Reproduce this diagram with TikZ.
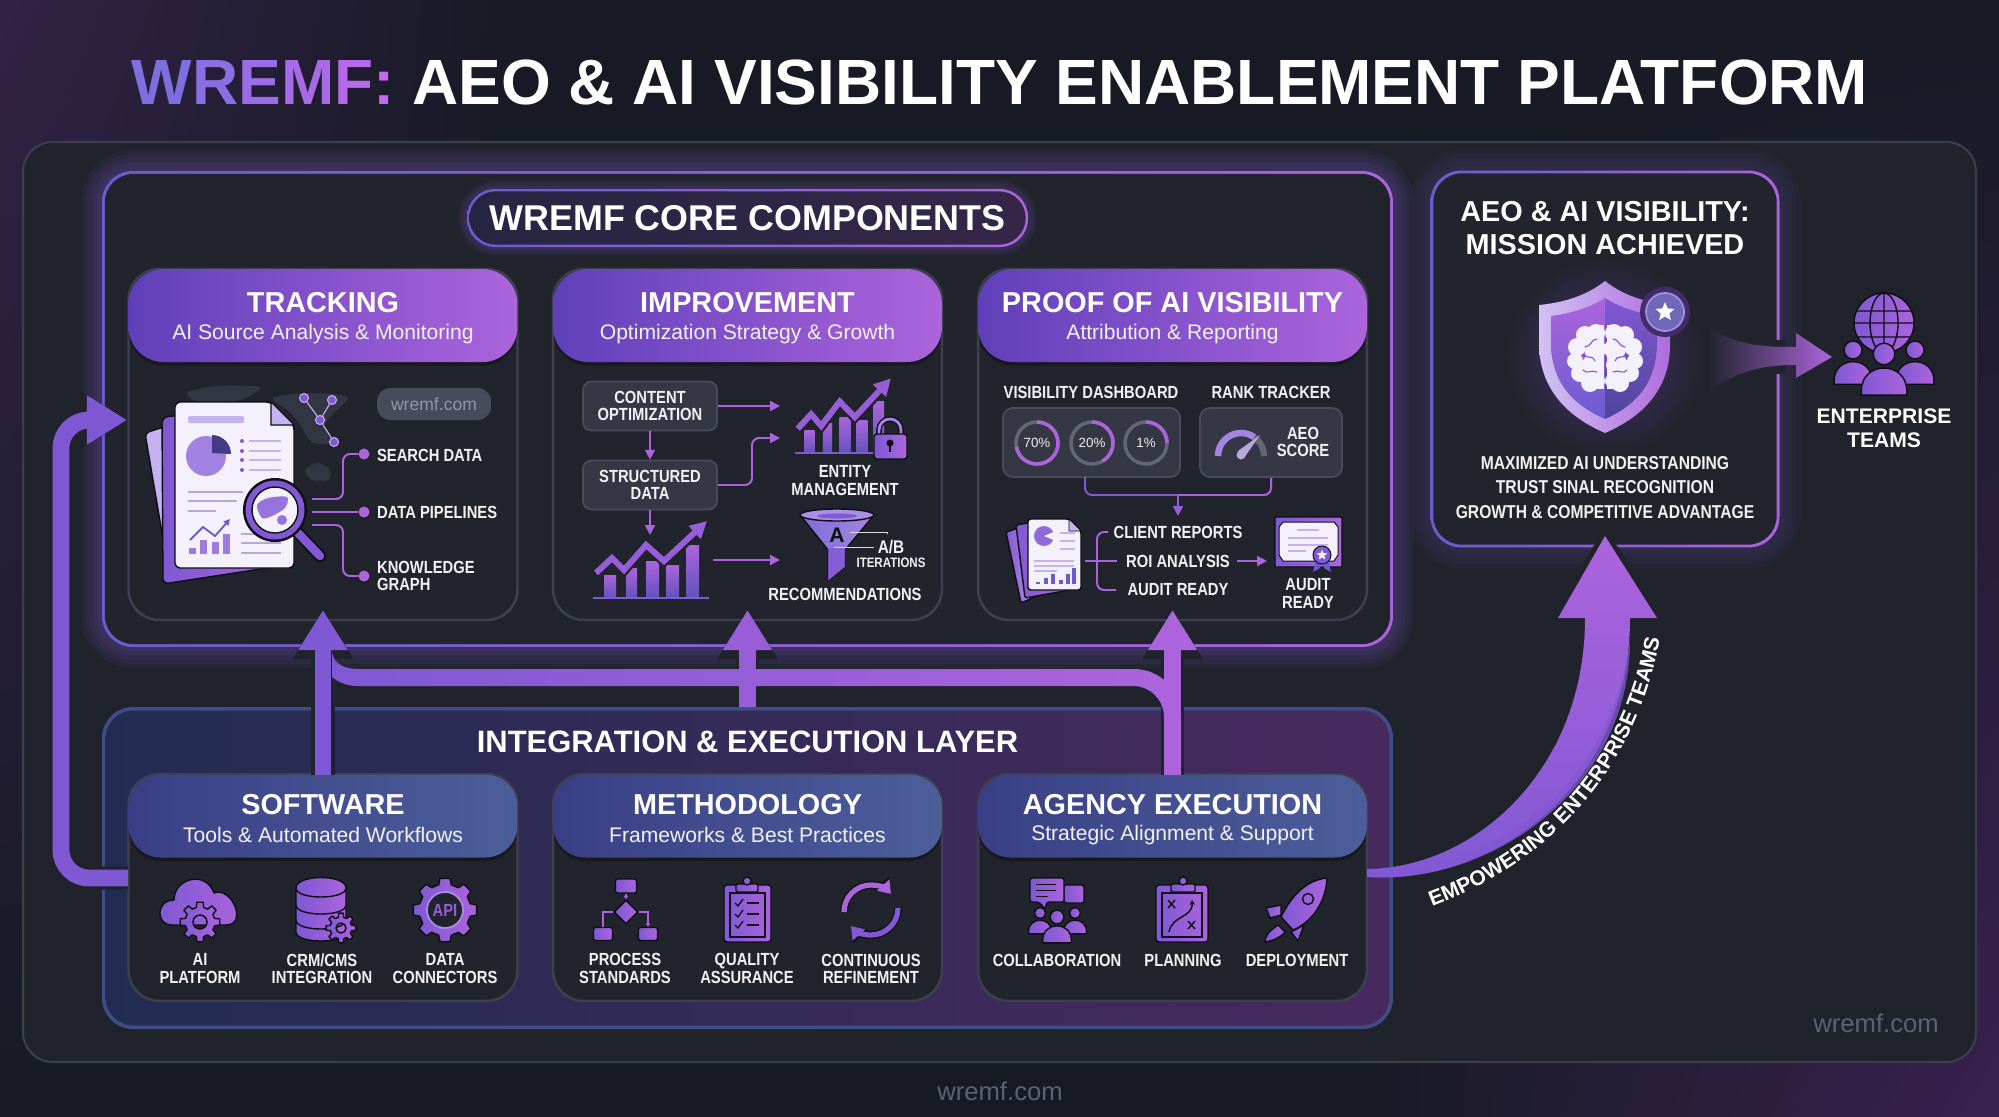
\documentclass[tikz,border=0pt]{standalone}
\usepackage{fontspec}
\setmainfont{Liberation Sans}
\newfontfamily\slimf[FakeStretch=.84]{Liberation Sans}
\usetikzlibrary{arrows.meta,shadings,decorations.text,shapes.geometric}

\definecolor{bgdark}{HTML}{171A24}
\definecolor{bgleft}{HTML}{332247}
\definecolor{bgright}{HTML}{3A2150}
\definecolor{panel}{HTML}{20232C}
\definecolor{panelline}{HTML}{3A3F4E}
\definecolor{cardbg}{HTML}{22242D}
\definecolor{cardline}{HTML}{3D404E}
\definecolor{vio}{HTML}{6A5CD0}
\definecolor{pur}{HTML}{8358D4}
\definecolor{lil}{HTML}{AC64DC}
\definecolor{pale}{HTML}{C6B2F0}
\definecolor{sheet}{HTML}{F4F0FC}
\definecolor{iconline}{HTML}{0E0E14}
\definecolor{chipbg}{HTML}{353745}
\definecolor{chipline}{HTML}{484B5A}
\definecolor{navya}{HTML}{3A3F85}
\definecolor{navyb}{HTML}{4C5E9A}
\definecolor{basea}{HTML}{222C52}
\definecolor{basem}{HTML}{2F2E60}
\definecolor{baseb}{HTML}{47295E}
\definecolor{baseline}{HTML}{3E4E84}
\definecolor{heada}{HTML}{5F40BA}
\definecolor{pilla}{HTML}{272642}
\definecolor{pillb}{HTML}{352648}
\definecolor{maptone}{HTML}{323642}
\definecolor{faint}{HTML}{5C6274}
\definecolor{domaintx}{HTML}{8F97A8}
\definecolor{wremfa}{HTML}{7D6FE0}
\definecolor{wremfb}{HTML}{C468EC}
\definecolor{txt}{HTML}{F1F1F6}

\newcommand\fs[2]{\fontsize{#1}{#2}\selectfont}

\tikzset{
  lab/.style={font=\slimf\bfseries\fs{25}{24.5},text=txt,align=center,inner sep=0pt},
  lableft/.style={lab,anchor=west,align=left},
  headtitle/.style={font=\bfseries\fs{41}{44},text=white,inner sep=0pt},
  headsub/.style={font=\fs{30}{34},text=txt,inner sep=0pt},
  cardbody/.style={draw=cardline,line width=3.5pt,fill=cardbg,rounded corners=44pt,minimum width=19.45cm,inner sep=0pt},
  corehead/.style={rounded corners=50pt,left color=heada,right color=lil,minimum width=19.45cm,minimum height=4.65cm,inner sep=0pt,
    preaction={fill=black,opacity=.3,transform canvas={yshift=-5pt}}},
  basehead/.style={rounded corners=46pt,left color=navya,right color=navyb,minimum width=19.45cm,minimum height=4.15cm,inner sep=0pt,
    preaction={fill=black,opacity=.3,transform canvas={yshift=-5pt}}},
  chip/.style={draw=chipline,line width=2.5pt,fill=chipbg,rounded corners=12pt,minimum width=6.7cm,minimum height=2.45cm,inner sep=0pt},
  minibox/.style={draw=chipline,line width=2.5pt,fill=chipbg,rounded corners=14pt,minimum height=3.45cm,inner sep=0pt},
  flow/.style={draw=lil,line width=2.8pt,rounded corners=10pt,-{Triangle[width=14pt,length=14pt]}},
  link/.style={draw=lil,line width=2.8pt,rounded corners=10pt},
  ico/.style={draw=iconline,line width=2pt,left color=pur!80!vio,right color=lil,line join=round},
  dotnode/.style={circle,fill=lil,minimum size=.55cm,inner sep=0pt},
  netdot/.style={circle,draw=pale,fill=pur,line width=1.5pt,minimum size=.45cm,inner sep=0pt},
  ringbase/.style={draw=chipline!85!white,line width=5pt},
  ringarc/.style={draw=lil,line width=5pt},
  ringlab/.style={font=\fs{19}{20},text=txt,inner sep=0pt},
  bar/.style={bottom color=vio!90!black,top color=lil},
  zigback/.style={draw=cardbg,line width=15pt,line join=miter},
  zig/.style={draw=pur!50!lil,line width=8.5pt,line join=miter,-{Triangle[width=24pt,length=24pt]}},
  mapland/.style={fill=maptone},
  wmark/.style={font=\fs{36.5}{38},text=faint,inner sep=0pt}
}

% glow and gradient border for the big boxes
\newcommand\glowbox[7]{% name, x, y, w, h, radius, glow opacity
  \foreach \w in {12,24,36,48,60}
    \node[draw=pur,opacity=#7,line width=\w pt,rounded corners=#6,minimum width=#4,minimum height=#5] at (#2,#3) {};
  \node[rounded corners=#6,left color=vio,right color=lil,minimum width=#4,minimum height=#5,inner sep=0pt] (#1) at (#2,#3) {};
}

\newcommand\corecard[4]{% name, centre x, title, subtitle
  \node[cardbody,minimum height=17.55cm] (#1body) at (#2,444.5) {};
  \node[corehead] (#1) at (#2,315.5) {};
  \node[headtitle] (#1t) at (#2,303) {#3};
  \node[headsub] (#1s) at (#2,334.5) {#4};
}
\newcommand\basecard[4]{%
  \node[cardbody,minimum height=11.35cm] (#1body) at (#2,887.5) {};
  \node[basehead] (#1) at (#2,816) {};
  \node[headtitle] (#1t) at (#2,805) {#3};
  \node[headsub] (#1s) at (#2,835) {#4};
}

% big arrows with a dark cut around them
\newcommand\bigflow[2]{%
  \draw[panel,line width=33pt,rounded corners=40pt,-{Triangle[width=82pt,length=70pt]}] #2;
  \draw[#1,line width=24pt,rounded corners=40pt,-{Triangle[width=66pt,length=57pt]}] #2;
}

\newcommand\gearico[5]{% x, y, outer, inner, hole
  \path[ico,even odd rule,shift={(#1,#2)}] (-14:#4)
    \foreach \t in {0,45,...,315}{ -- ({\t-14}:#4) -- ({\t-9}:#3) -- ({\t+9}:#3) -- ({\t+14}:#4) } -- cycle
    (0,0) circle (#5);
}
\newcommand\risechart[4]{% x, y, xscale, yscale
  \begin{scope}[shift={(#1,#2)},xscale=#3,yscale=-#4]
    \foreach \a/\b/\h in {10/22/23,32/43/30,52/65/37,72/85/33,92/105/53}
      \shade[bar] (\a,0) rectangle (\b,\h);
    \draw[pur,line width=3pt] (-1,0) -- (115,0);
    \draw[zigback] (2,25) -- (18,40) -- (30,28) -- (52,53) -- (70,37) -- (100,64);
    \draw[zig] (2,25) -- (18,40) -- (30,28) -- (52,53) -- (70,37) -- (113,77);
  \end{scope}
}
\newcommand\person[3]{% x, y of head, scale
  \begin{scope}[shift={(#1,#2)},scale=#3]
    \path[ico] (-21,38) -- (-21,34) .. controls (-21,6) and (21,6) .. (21,34) -- (21,38) -- cycle;
    \path[ico] (0,0) circle (10);
  \end{scope}
}
\newcommand\starico[4]{% x, y, radius, colour
  \fill[#4,shift={(#1,#2)}] (-90:#3) -- (-54:#3*.45) -- (-18:#3) -- (18:#3*.45) -- (54:#3) -- (90:#3*.45)
    -- (126:#3) -- (162:#3*.45) -- (198:#3) -- (234:#3*.45) -- cycle;
}
\newcommand\brainhalf[1]{% mirror factor
  \begin{scope}[shift={(1605,357)},xscale=#1]
    \foreach \a/\b/\r in {9/-24/9,20/-22/9,28/-10/9,30/4/8,25/16/9,15/26/9,7/24/7,10/-8/11,12/8/11}
      \fill[sheet] (\a,\b) circle (\r);
    \fill[sheet] (1.5,-32) rectangle (12,32);
    \draw[pur,line width=1.6pt,line cap=round] (8,-18) .. controls (14,-18) and (14,-10) .. (20,-10);
    \draw[pur,line width=1.6pt,line cap=round] (22,-2) .. controls (16,2) and (12,-2) .. (10,4);
    \draw[pur,line width=1.6pt,line cap=round] (8,15) .. controls (14,12) and (18,18) .. (22,13);
  \end{scope}
}

\begin{document}
\begin{tikzpicture}[x=0.05cm,y=-0.05cm]
  \useasboundingbox (0,0) rectangle (1999,1116);
  \fill[bgdark] (-5,-5) rectangle (2004,1121);
  \shade[upper left=bgleft,upper right=bgdark,lower left=bgdark,lower right=bgdark] (-5,-5) rectangle (520,1121);
  \shade[upper left=bgdark,upper right=bgdark,lower left=bgdark,lower right=bgright] (1350,-5) rectangle (2004,1121);
  \node[draw=panelline,line width=3pt,fill=panel,rounded corners=42pt,minimum width=97.65cm,minimum height=46cm] (outer) at (999.5,602) {};

  % title
  \node[font=\bfseries\fs{91}{92},inner sep=0pt] (maintitle) at (1000,82) {\textcolor{wremfa}{W}\textcolor{wremfa!80!wremfb}{R}\textcolor{wremfa!60!wremfb}{E}\textcolor{wremfa!40!wremfb}{M}\textcolor{wremfa!20!wremfb}{F}\textcolor{wremfb}{:} \textcolor{white}{AEO \& AI VISIBILITY ENABLEMENT PLATFORM}};

  % the two big boxes
  \glowbox{core}{747.5}{409}{64.55cm}{23.8cm}{44pt}{.07}
  \node[fill=cardbg,rounded corners=41pt,minimum width=64.27cm,minimum height=23.52cm,inner sep=0pt] (corein) at (747.5,409) {};
  \node[fill=baseline,rounded corners=44pt,minimum width=64.55cm,minimum height=16.1cm,inner sep=0pt] (integ) at (747.5,868) {};
  \node[left color=basea,middle color=basem,right color=baseb,rounded corners=40pt,minimum width=64.2cm,minimum height=15.75cm,inner sep=0pt] (integin) at (747.5,868) {};

  \foreach \w in {8,16,24}
    \node[draw=pur,opacity=.08,line width=\w pt,rounded corners=40pt,minimum width=28.05cm,minimum height=2.9cm] at (747.5,218) {};
  \node[rounded corners=40pt,left color=vio,right color=lil,minimum width=28.05cm,minimum height=2.9cm,inner sep=0pt] (pill) at (747.5,218) {};
  \node[left color=pilla,right color=pillb,rounded corners=38pt,minimum width=27.82cm,minimum height=2.67cm,inner sep=0pt] (pillin) at (747.5,218) {};
  \node[font=\bfseries\fs{51}{54},text=white,inner sep=0pt] (coretitle) at (747.5,218) {WREMF CORE COMPONENTS};
  \node[font=\bfseries\fs{44}{46},text=white,inner sep=0pt] (integtitle) at (747.5,742) {INTEGRATION \& EXECUTION LAYER};

  \corecard{tracking}{323}{TRACKING}{AI Source Analysis \& Monitoring}
  \corecard{improve}{747.5}{IMPROVEMENT}{Optimization Strategy \& Growth}
  \corecard{proof}{1172.5}{PROOF OF AI VISIBILITY}{Attribution \& Reporting}
  \basecard{software}{323}{SOFTWARE}{Tools \& Automated Workflows}
  \basecard{method}{747.5}{METHODOLOGY}{Frameworks \& Best Practices}
  \basecard{agency}{1172.5}{AGENCY EXECUTION}{Strategic Alignment \& Support}

  % tracking card
  \fill[mapland] plot[smooth cycle] coordinates {(187,393) (215,386) (260,387) (240,400) (200,402)};
  \fill[mapland] plot[smooth cycle] coordinates {(273,398) (310,393) (347,397) (335,412) (325,425) (330,443) (312,442) (300,425) (290,412)};
  \fill[mapland] plot[smooth cycle] coordinates {(305,470) (318,463) (330,470) (328,480) (312,480)};
  \path[ico,left color=pale,right color=pale,rounded corners=6pt] (145,433) -- (170,425) -- (200,560) -- (168,568) -- cycle;
  \path[ico,rounded corners=8pt] (162,417) -- (195,414) -- (280,566) -- (163,584) -- cycle;
  \path[draw=iconline,line width=2pt,fill=sheet,rounded corners=7pt] (175,568) -- (175,402) -- (271,402) -- (294,425) -- (294,568) -- cycle;
  \path[draw=iconline,line width=1.5pt,fill=pale] (271,402) -- (271,425) -- (294,425) -- cycle;
  \fill[pale,rounded corners=2pt] (188,416) rectangle (244,423);
  \fill[pur!55!pale] (206,456) circle (20);
  \fill[vio!60!black!90!pur] (212,453) -- (212,435) arc[start angle=-90,end angle=0,radius=19] -- cycle;
  \foreach \y in {441,451,460,470} {
    \fill[pur] (242,\y) circle (2);
    \draw[pale,line width=3.4pt] (249,\y) -- (281,\y);
  }
  \foreach \y/\e in {492/243,501/237,511/216} \draw[pale!80!gray,line width=3.4pt] (188,\y) -- (\e,\y);
  \foreach \y in {534,543,553} \draw[pale!80!gray,line width=3.4pt] (241,\y) -- (281,\y);
  \foreach \a/\h in {189/548,200/540,212/542,223/534} \fill[pur!60!pale] (\a,\h) rectangle (\a+7,554);
  \draw[vio,line width=2.6pt,-{Triangle[width=9pt,length=9pt]}] (190,540) -- (203,527) -- (215,536) -- (230,519);
  \draw[iconline,line width=17pt,line cap=round] (298,533) -- (320,556);
  \draw[pur,line width=12pt,line cap=round] (298,533) -- (320,556);
  \path[fill=iconline] (275,510) circle (32);
  \path[fill=pur] (275,510) circle (29.5);
  \path[fill=sheet,draw=iconline,line width=2pt] (275,510) circle (23);
  \fill[pur!70!pale] plot[smooth cycle] coordinates {(257,505) (268,498) (287,497) (285,508) (272,516) (262,518)};
  \fill[pur!70!pale] (282,520) circle (5);

  \node[netdot] (neta) at (304,398) {};
  \node[netdot] (netb) at (332,400) {};
  \node[netdot] (netc) at (320,420) {};
  \node[netdot] (netd) at (334,442) {};
  \draw[pale,line width=1.6pt] (neta) -- (netc) (netb) -- (netc) (netc) -- (netd);
  \node[fill=chipline,rounded corners=19pt,minimum width=5.7cm,minimum height=1.6cm,inner sep=0pt,font=\fs{25}{27},text=domaintx] (domain) at (434,404) {wremf.com};

  \node[dotnode] (dsearch) at (364,454) {};
  \node[dotnode] (dpipe) at (364,512) {};
  \node[dotnode] (dgraph) at (364,576) {};
  \node[lableft] (lsearch) at (377,455) {SEARCH DATA};
  \node[lableft] (lpipe) at (377,512) {DATA PIPELINES};
  \node[lableft] (lgraph) at (377,576) {KNOWLEDGE\\GRAPH};
  \coordinate (magone) at (312,499);
  \coordinate (magtwo) at (312,512);
  \coordinate (magthree) at (312,525);
  \draw[link] (magone) -- (343,499) -- (343,454) -- (dsearch);
  \draw[link] (magtwo) -- (dpipe);
  \draw[link] (magthree) -- (343,525) -- (343,576) -- (dgraph);

  % improvement card
  \node[chip,lab] (content) at (650,406) {CONTENT\\OPTIMIZATION};
  \node[chip,lab] (structured) at (650,485) {STRUCTURED\\DATA};
  \coordinate (toentity) at (780,406);
  \coordinate (toentityb) at (780,438);
  \coordinate (tochart) at (650,535);
  \coordinate (chartout) at (713,560);
  \coordinate (tofunnel) at (780,560);
  \draw[flow] (content) -- (structured);
  \draw[flow] (content.east) -- (toentity);
  \draw[flow] (structured.east) -- (752,485) -- (752,438) -- (toentityb);
  \draw[flow] (structured.south) -- (tochart);
  \draw[flow] (chartout) -- (tofunnel);
  \risechart{594}{598}{1}{1}
  \risechart{796}{453}{.84}{.97}
  \draw[iconline,line width=8pt] (879,436) -- (879,430) arc[start angle=180,end angle=360,radius=11] -- (901,436);
  \draw[pur!50!pale,line width=4pt] (879,436) -- (879,430) arc[start angle=180,end angle=360,radius=11] -- (901,436);
  \path[ico,rounded corners=4pt] (874,434) rectangle (907,459);
  \fill[iconline] (890,443) circle (3.5);
  \draw[iconline,line width=2.5pt] (890,443) -- (890,452);
  \node[lab] (entity) at (845,480.5) {ENTITY\\MANAGEMENT};
  \path[ico,left color=vio!80!pale,right color=pur!50!pale] (800,515) -- (828,550) -- (828,581) -- (845,567) -- (845,550) -- (874,515) -- cycle;
  \path[draw=iconline,line width=2pt,fill=pur!40!pale] (837,515) ellipse (37 and 6);
  \fill[pur] (837,516) ellipse (20 and 2.5);
  \fill[pur,opacity=.8] (828,548) -- (845,548) -- (845,567) -- (828,581) -- cycle;
  \node[font=\bfseries\fs{30}{30},text=iconline,inner sep=0pt] (funnela) at (837,535) {A};
  \coordinate (funnelup) at (850,532);
  \coordinate (funnellow) at (834,547);
  \node[lab,font=\slimf\bfseries\fs{26}{26}] (ablab) at (891,547) {A/B};
  \node[lab,font=\slimf\bfseries\fs{19.5}{20}] (iterlab) at (891,563) {ITERATIONS};
  \draw[txt!80!gray,line width=1.4pt] (funnelup) -- (887,532) -- (887,534);
  \draw[txt!80!gray,line width=1.4pt] (funnellow) -- (874,547);
  \node[lab] (recom) at (845,594) {RECOMMENDATIONS};

  % proof card
  \node[lab] (dashlab) at (1091,392) {VISIBILITY DASHBOARD};
  \node[lab] (ranklab) at (1271,392) {RANK TRACKER};
  \node[minibox,minimum width=8.85cm] (dash) at (1091.5,442.5) {};
  \node[minibox,minimum width=7.1cm] (rank) at (1271,442.5) {};
  \foreach \n/\cx/\t/\e in {a/1037/70\%/170,b/1092/20\%/60,c/1146/1\%/0} {
    \draw[ringbase] (\cx,443) circle (21);
    \draw[ringarc] (\cx,422) arc[start angle=-90,end angle=\e,radius=21];
    \node[ringlab] (ring\n) at (\cx,443) {\t};
  }
  \draw[chipline!85!white,line width=9pt] (1241,456) ++(-23,0) arc[start angle=180,end angle=360,radius=23];
  \draw[pur!50!pale,line width=9pt] (1241,456) ++(-23,0) arc[start angle=180,end angle=305,radius=23];
  \fill[pale!80!gray] (1238,451) -- (1260,435) -- (1244,458) -- cycle;
  \fill[pale!80!gray] (1241,455) circle (4.5);
  \node[lab] (aeo) at (1303,442) {AEO\\SCORE};
  \coordinate (dashjoin) at (1178,495);
  \coordinate (intoreports) at (1178,516);
  \coordinate (dashfoot) at (1085,477);
  \draw[link,draw=pur] (dashfoot) -- (1085,495) -- (dashjoin);
  \draw[link] (rank.south) -- (1271,495) -- (dashjoin);
  \draw[flow,draw=pur!50!lil] (dashjoin) -- (intoreports);

  \path[ico,left color=pur,right color=pale,rounded corners=3pt] (1006,532) -- (1028,525) -- (1050,590) -- (1021,603) -- cycle;
  \path[ico,rounded corners=3pt] (1016,525) -- (1040,521) -- (1070,590) -- (1025,598) -- cycle;
  \path[draw=iconline,line width=2pt,fill=sheet,rounded corners=4pt] (1028,590) -- (1028,519) -- (1069,519) -- (1081,531) -- (1081,590) -- cycle;
  \path[draw=iconline,line width=1pt,fill=pale] (1069,519) -- (1069,531) -- (1081,531) -- cycle;
  \fill[pur!80!pale] (1044,536) circle (10);
  \fill[sheet] (1044,536) -- (1056,531) -- (1056,541) -- cycle;
  \foreach \y in {533,541,549} \draw[pale,line width=2pt] (1060,\y) -- (1075,\y);
  \foreach \y/\e in {561/1074,566/1074,571/1057} \draw[pale,line width=2pt] (1034,\y) -- (\e,\y);
  \foreach \a/\h in {1036/582,1044/578,1051/574,1059/580,1066/574,1072/568}
    \fill[vio] (\a,\h) rectangle (\a+4,584);

  \coordinate (docout) at (1085,561);
  \coordinate (reptop) at (1108,532);
  \coordinate (repbot) at (1116,590);
  \node[lab] (repone) at (1178,532) {CLIENT REPORTS};
  \node[lab] (reptwo) at (1178,561) {ROI ANALYSIS};
  \node[lab] (repthree) at (1178,590) {AUDIT READY};
  \draw[link,shorten >=13pt] (docout) -- (reptwo.west);
  \draw[link] (reptop) -- (1097,532) -- (1097,590) -- (repbot);
  \coordinate (tocert) at (1267,561);
  \draw[flow,shorten <=10pt] (reptwo.east) -- (tocert);

  \path[ico,draw=iconline,rounded corners=1pt] (1275,517) rectangle (1342,567);
  \path[fill=sheet,draw=iconline,line width=1.4pt] (1283,522) -- (1334,522) -- (1338,527) -- (1338,555) -- (1334,561) -- (1283,561) -- (1279,555) -- (1279,527) -- cycle;
  \draw[pale,line width=3pt] (1297,530) -- (1319,530);
  \foreach \y/\e in {538/1328,545/1328,551/1306} \draw[pale,line width=2pt] (1288,\y) -- (\e,\y);
  \fill[vio] (1317,557) -- (1313,572) -- (1320,568) -- (1322,560) -- cycle;
  \fill[vio] (1327,557) -- (1331,572) -- (1324,568) -- (1322,560) -- cycle;
  \path[draw=iconline,line width=1.4pt,fill=pur] (1322,555) circle (9);
  \starico{1322}{555}{5.5}{sheet}
  \node[lab] (auditlab) at (1308,593.5) {AUDIT\\READY};

  % software card
  \path[ico] (172,925) .. controls (155,925) and (156,900) .. (174,900) .. controls (174,878) and (206,870) .. (214,893) .. controls (232,886) and (248,925) .. (226,925) -- cycle;
  \gearico{200}{922}{20}{15}{7}
  \node[lab] (lplat) at (200,968.5) {AI\\PLATFORM};
  \path[ico] (296,888) -- (296,932) .. controls (296,944) and (346,944) .. (346,932) -- (346,888) .. controls (346,874) and (296,874) .. (296,888) -- cycle;
  \foreach \y in {888,905,920}
    \draw[iconline,line width=2pt] (296,\y) .. controls (296,\y+12) and (346,\y+12) .. (346,\y);
  \gearico{341}{928}{15}{11}{5}
  \node[lab] (lcrm) at (322,968.5) {CRM/CMS\\INTEGRATION};
  \gearico{445}{910}{32}{26}{0.1}
  \path[draw=pale!60!pur,line width=2.4pt,fill=cardbg] (445,910) circle (18);
  \node[font=\slimf\bfseries\fs{25}{26},text=pur!50!lil,inner sep=0pt] (apilab) at (445,910) {API};
  \node[lab] (ldata) at (445,968.5) {DATA\\CONNECTORS};

  % methodology card
  \node[ico,rounded corners=3pt,minimum width=1.05cm,minimum height=.7cm,inner sep=0pt] (ftop) at (626,886) {};
  \node[ico,diamond,aspect=1,minimum size=1.2cm,inner sep=0pt] (fmid) at (626,912) {};
  \node[ico,rounded corners=3pt,minimum width=.95cm,minimum height=.65cm,inner sep=0pt] (fleft) at (603,934) {};
  \node[ico,rounded corners=3pt,minimum width=.95cm,minimum height=.65cm,inner sep=0pt] (fright) at (648,934) {};
  \draw[lil,line width=2pt,-{Triangle[width=6pt,length=5pt]}] (ftop) -- (fmid);
  \draw[lil,line width=2pt] (fmid) -| (fleft);
  \draw[lil,line width=2pt,-{Triangle[width=6pt,length=5pt]}] (fmid) -| (fright);
  \node[lab] (lproc) at (625,968.5) {PROCESS\\STANDARDS};
  \path[ico,rounded corners=4pt] (724,885) rectangle (771,942);
  \draw[iconline,line width=1.6pt] (730,893) rectangle (765,937);
  \path[ico,rounded corners=2pt] (736,884) rectangle (758,892);
  \path[ico] (747,881) circle (4);
  \foreach \y in {903,914,925} {
    \draw[iconline,line width=1.8pt] (735,\y) -- (738,\y+3) -- (743,\y-4);
    \draw[iconline,line width=1.8pt] (747,\y) -- (759,\y);
  }
  \node[lab] (lqual) at (747,968.5) {QUALITY\\ASSURANCE};
  \coordinate (loopa) at (844,912);
  \coordinate (loopb) at (898,908);
  \draw[iconline,line width=11pt,-{Triangle[width=28pt,length=20pt]}] (loopa) arc[start angle=180,end angle=318,radius=27];
  \draw[iconline,line width=11pt,-{Triangle[width=28pt,length=20pt]}] (loopb) arc[start angle=0,end angle=138,radius=27];
  \draw[lil,line width=7.5pt,-{Triangle[width=23pt,length=17pt]}] (loopa) arc[start angle=180,end angle=318,radius=27];
  \draw[pur,line width=7.5pt,-{Triangle[width=23pt,length=17pt]}] (loopb) arc[start angle=0,end angle=138,radius=27];
  \node[lab] (lcont) at (871,968.5) {CONTINUOUS\\REFINEMENT};

  % agency card
  \path[ico,rounded corners=3pt] (1064,885) rectangle (1084,903);
  \path[ico,rounded corners=3pt] (1030,878) -- (1064,878) -- (1064,902) -- (1047,902) -- (1045,909) -- (1039,902) -- (1030,902) -- cycle;
  \foreach \y/\e in {884/1056,890/1056,896/1048} \draw[iconline,line width=1.3pt] (1036,\y) -- (\e,\y);
  \person{1040}{913}{.55}
  \person{1075}{913}{.55}
  \person{1057}{917}{.68}
  \node[lab] (lcollab) at (1057,960) {COLLABORATION};
  \path[ico,rounded corners=4pt] (1156,885) rectangle (1208,942);
  \draw[iconline,line width=1.6pt] (1162,893) rectangle (1202,937);
  \path[ico,rounded corners=2pt] (1171,884) rectangle (1195,892);
  \path[ico] (1183,881) circle (4);
  \draw[iconline,line width=2pt] (1168,900) -- (1175,908) (1175,900) -- (1168,908);
  \draw[iconline,line width=2pt] (1188,921) -- (1195,929) (1195,921) -- (1188,929);
  \draw[iconline,line width=2pt,-{Stealth[width=8pt,length=7pt]}] (1169,932) .. controls (1172,915) and (1193,918) .. (1192,900);
  \node[lab] (lplan) at (1183,960) {PLANNING};
  \path[ico] (1281,905) -- (1266,908) -- (1270,918) -- (1281,915) -- cycle;
  \path[ico] (1304,925) -- (1298,941) -- (1291,932) -- cycle;
  \path[ico] (1278,925) .. controls (1268,932) and (1265,936) .. (1265,942) .. controls (1272,941) and (1280,938) .. (1285,932) -- cycle;
  \path[ico] (1327,878) .. controls (1305,880) and (1290,898) .. (1281,917) -- (1293,930) .. controls (1312,922) and (1326,902) .. cycle;
  \path[draw=iconline,line width=2pt] (1308,899) circle (5.5);
  \node[lab] (ldeploy) at (1297,960) {DEPLOYMENT};

  % mission box
  \glowbox{mission}{1605}{359}{17.45cm}{18.85cm}{44pt}{.04}
  \node[fill=cardbg,rounded corners=41pt,minimum width=17.17cm,minimum height=18.57cm,inner sep=0pt] (missionin) at (1605,359) {};
  \shade[inner color=pur!55!black,outer color=cardbg] (1605,357) circle (98);
  \node[font=\bfseries\fs{41}{46.5},text=white,align=center,inner sep=0pt] (missiont) at (1605,228) {AEO \& AI VISIBILITY:\\MISSION ACHIEVED};
  \path[left color=pale!80!white,right color=lil!90!pale] (1605,281) .. controls (1585,297) and (1560,303) .. (1539,305) -- (1539,345) .. controls (1540,395) and (1575,420) .. (1605,433) .. controls (1635,420) and (1670,395) .. (1670,345) -- (1670,305) .. controls (1650,303) and (1625,297) .. (1605,281) -- cycle;
  \path[top color=lil,bottom color=vio] (1605,298) .. controls (1590,308) and (1568,314) .. (1551,316) -- (1551,345) .. controls (1552,388) and (1580,408) .. (1605,419) -- cycle;
  \path[top color=pur,bottom color=vio!75!black] (1605,298) .. controls (1620,308) and (1642,314) .. (1657,316) -- (1657,345) .. controls (1656,388) and (1630,408) .. (1605,419) -- cycle;
  \brainhalf{1}
  \brainhalf{-1}
  \fill[pur!50!black] (1665,312) circle (25);
  \path[draw=pale!60!vio,line width=2.5pt,fill=vio!70!gray] (1665,312) circle (19);
  \starico{1665}{312}{10}{white}
  \node[lab,font=\slimf\bfseries\fs{26.5}{35}] (missionl) at (1605,487.5) {MAXIMIZED AI UNDERSTANDING\\TRUST SINAL RECOGNITION\\GROWTH \& COMPETITIVE ADVANTAGE};

  % enterprise teams
  \path[ico] (1884,323) circle (30);
  \draw[iconline,line width=2pt] (1884,323) ellipse (14 and 30) (1884,293) -- (1884,353) (1856,311) -- (1912,311) (1854,323) -- (1914,323) (1858,337) -- (1910,337);
  \person{1853}{350}{.9}
  \person{1915}{350}{.9}
  \person{1884}{354}{1.08}
  \node[font=\bfseries\fs{30}{33.5},text=white,align=center,inner sep=0pt] (teams) at (1884,428) {ENTERPRISE\\TEAMS};

  % big arrows
  \coordinate (softleft) at (128,878);
  \coordinate (trackin) at (127,420);
  \bigflow{pur!85!vio}{(softleft) -- (61,878) -- (61,420) -- (trackin)}
  \coordinate (softup) at (323,775);
  \coordinate (trackup) at (323,610);
  \bigflow{pur!85!vio}{(softup) -- (trackup)}
  \coordinate (buswell) at (747.5,707);
  \coordinate (improveup) at (747.5,610);
  \bigflow{pur!50!lil}{(buswell) -- (improveup)}
  \coordinate (agencyup) at (1172.5,775);
  \coordinate (proofup) at (1172.5,610);
  \bigflow{lil}{(agencyup) -- (proofup)}
  \shade[left color=pur!85!vio,right color=lil] (332,650) .. controls (332,662) and (342,669) .. (358,669) -- (1134,669)
    arc[start angle=-90,end angle=0,radius=47] -- (1181,775) -- (1164,775) -- (1164,717)
    arc[start angle=0,end angle=-90,radius=31] -- (357,686) .. controls (347,686) and (338,682) .. (332,677) -- cycle;

  % arrow out of the shield
  \coordinate (shieldout) at (1707,360);
  \coordinate (teamsin) at (1832,357);
  \fill[cardbg] (1774,340) rectangle (1786,374);
  \shade[left color=panel,middle color=lil!75!panel,right color=lil] (1707,326) .. controls (1735,345) and (1760,347) .. (1796,347) -- (1796,333) -- (teamsin) -- (1796,378) -- (1796,365) .. controls (1760,365) and (1735,372) .. (1707,393) -- cycle;

  % arrow of the mission
  \coordinate (empstart) at (1367,873);
  \coordinate (missionup) at (1605,536);
  \fill[panel] (1605,528) -- (1668,622) -- (1545,622) -- cycle;
  \shade[bottom color=pur!90!vio,top color=lil] (1367,869) .. controls (1475,868) and (1585,770) .. (1585,618) -- (1558,618) -- (missionup) -- (1657,618) -- (1630,618)
    .. controls (1630,790) and (1490,885) .. (1367,877) -- cycle;
  \fill[pur,opacity=.75] (1367,877) .. controls (1490,885) and (1630,790) .. (1630,640) .. controls (1610,790) and (1490,872) .. (1367,875) -- cycle;
  \path[postaction={decorate},decoration={text along path,text align=center,text color=white,
    text={|\bfseries\fs{30}{32}|EMPOWERING ENTERPRISE TEAMS}}]
    (1420,911) .. controls (1535,872) and (1638,782) .. (1662,626);

  % watermarks
  \node[wmark] (markright) at (1876,1023) {wremf.com};
  \node[wmark] (markbottom) at (1000,1091) {wremf.com};
\end{tikzpicture}
\end{document}
